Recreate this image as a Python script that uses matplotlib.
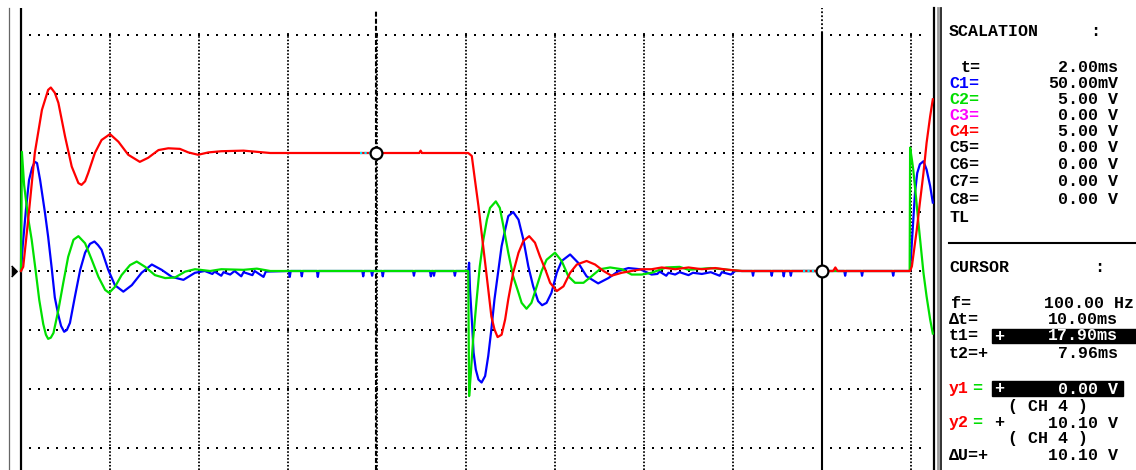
import matplotlib
matplotlib.use("Agg")
import matplotlib.pyplot as plt
from matplotlib.patches import Rectangle
from matplotlib.lines import Line2D

W, H, DPI = 1136, 470, 100

# ---------------- data: time in ms, amplitude in screen divisions ----------------
# C4 (red)
red_t = [0.00, 0.05, 0.16, 0.31, 0.47, 0.61, 0.67, 0.76, 0.84, 0.99, 1.14, 1.29, 1.36, 1.44, 1.51, 1.66, 1.81, 2.00,
         2.19, 2.41, 2.67, 2.86, 3.09, 3.31, 3.57, 3.76, 3.98, 4.21, 4.50, 5.00, 5.30, 5.60, 8.95, 8.98, 9.01, 10.05,
         10.13, 10.20, 10.28, 10.35, 10.43, 10.50, 10.57, 10.64, 10.71, 10.80, 10.88, 10.95, 11.06, 11.18, 11.29,
         11.42, 11.55, 11.66, 11.78, 11.89, 12.04, 12.19, 12.34, 12.49, 12.71, 12.90, 13.09, 13.27, 13.50, 13.72,
         13.95, 14.17, 14.40, 14.70, 15.00, 15.30, 15.60, 15.90, 16.20, 18.25, 18.30, 18.35, 19.98,
         20.02, 20.05, 20.13, 20.20, 20.28, 20.35, 20.43, 20.49]
red_v = [0.00, 0.07, 0.86, 2.00, 2.73, 3.07, 3.11, 3.02, 2.85, 2.28, 1.77, 1.49, 1.46, 1.52, 1.66, 2.00, 2.22, 2.32,
         2.19, 1.97, 1.85, 1.92, 2.05, 2.08, 2.07, 2.01, 1.97, 2.01, 2.03, 2.04, 2.02, 2.00, 2.00, 2.04, 2.00, 2.00,
         1.95, 1.55, 1.10, 0.65, 0.14, -0.31, -0.77, -0.99, -1.12, -1.08, -0.82, -0.48, -0.03, 0.31, 0.51,
         0.59, 0.48, 0.25, 0.03, -0.20, -0.34, -0.26, -0.03, 0.11, 0.17, 0.11, 0.00, -0.08, -0.03, 0.00,
         0.03, 0.03, 0.06, 0.03, 0.06, 0.03, 0.05, 0.02, 0.00, 0.00, 0.06, 0.00, 0.00,
         0.08, 0.25, 0.70, 1.16, 1.66, 2.17, 2.62, 2.91]

# C1 (blue)
blue_t = [0.00, 0.04, 0.11, 0.18, 0.25, 0.31, 0.36, 0.43, 0.54, 0.61, 0.69, 0.76, 0.84, 0.90, 0.97, 1.03, 1.10, 1.21,
          1.33, 1.44, 1.55, 1.65, 1.73, 1.81, 1.96, 2.11, 2.30, 2.49, 2.71, 2.94, 3.16, 3.39, 3.65, 3.91, 4.13,
          4.30, 4.35, 4.50, 4.55, 4.70, 4.80, 4.95, 5.00, 5.20, 5.25, 5.45, 5.50, 6.02, 6.04, 6.06, 6.29, 6.31,
          6.33, 6.65, 6.67, 6.69, 7.67, 7.69, 7.71, 7.87, 7.89, 7.91, 8.11, 8.13, 8.15, 8.81, 8.83, 8.85, 9.19,
          9.21, 9.23, 9.26, 9.28, 9.30, 9.73, 9.75, 9.77,
          10.05, 10.07, 10.09, 10.14, 10.17, 10.22, 10.28, 10.35, 10.43, 10.50, 10.57, 10.64, 10.73, 10.80,
          10.88, 10.95, 11.06, 11.18, 11.29, 11.40, 11.51, 11.62, 11.71, 11.81, 11.92, 12.04, 12.15, 12.34,
          12.52, 12.71, 12.97, 13.20, 13.43, 13.65, 13.91, 14.17,
          14.30, 14.35, 14.50, 14.55, 14.70, 14.80, 15.00, 15.10, 15.30, 15.50, 15.70, 15.75, 15.95, 16.05,
          16.43, 16.45, 16.47, 16.85, 16.87, 16.89, 17.12, 17.14, 17.16, 17.28, 17.30, 17.32, 18.50, 18.52,
          18.54, 18.88, 18.90, 18.92, 19.58, 19.60, 19.62, 19.98,
          20.02, 20.05, 20.09, 20.14, 20.20, 20.28, 20.35, 20.43, 20.49]
blue_v = [0.00, 0.44, 1.03, 1.54, 1.75, 1.85, 1.83, 1.54, 0.98, 0.58, 0.05, -0.45, -0.75, -0.93, -1.03, -1.00, -0.88, -0.44,
          0.02, 0.31, 0.46, 0.50, 0.44, 0.36, 0.02, -0.24, -0.35, -0.24, -0.03, 0.11, 0.02, -0.10, -0.15, -0.03, 0.00,
          -0.05, -0.01, -0.08, -0.02, -0.06, 0.00, -0.09, -0.02, -0.07, 0.00, -0.10, -0.01, 0.00, -0.10, 0.00, 0.00, -0.09,
          0.00, 0.00, -0.10, 0.00, 0.00, -0.09, 0.00, 0.00, -0.08, 0.00, 0.00, -0.09, 0.00, 0.00, -0.08, 0.00, 0.00,
          -0.09, 0.00, 0.00, -0.08, 0.00, 0.00, -0.08, 0.00,
          0.00, 0.14, -0.31, -0.94, -1.38, -1.67, -1.84, -1.89, -1.78, -1.44, -0.99, -0.48, 0.03, 0.42,
          0.70, 0.93, 1.00, 0.87, 0.53, 0.08, -0.26, -0.51, -0.58, -0.54, -0.37, -0.03, 0.17, 0.28,
          0.14, -0.09, -0.21, -0.12, 0.00, 0.05, 0.03, -0.06,
          -0.05, -0.01, -0.08, -0.03, -0.06, -0.02, -0.07, -0.03, -0.05, -0.02, -0.08, -0.02, -0.06, 0.00,
          0.00, -0.08, 0.00, 0.00, -0.08, 0.00, 0.00, -0.09, 0.00, 0.00, -0.08, 0.00, 0.00, -0.08,
          0.00, 0.00, -0.08, 0.00, 0.00, -0.08, 0.00, 0.00,
          0.48, 0.87, 1.33, 1.66, 1.81, 1.86, 1.72, 1.44, 1.16]

# C2 (green)
green_t = [0.00, 0.02, 0.07, 0.16, 0.24, 0.33, 0.41, 0.50, 0.56, 0.61, 0.67, 0.73, 0.84, 0.95, 1.06, 1.18, 1.29, 1.44,
           1.59, 1.74, 1.89, 1.98, 2.11, 2.26, 2.45, 2.60, 2.79, 3.01, 3.24, 3.46, 3.69, 3.91, 4.25, 4.50, 5.00, 5.30,
           5.60, 10.05,
           10.07, 10.11, 10.16, 10.24, 10.31, 10.39, 10.47, 10.54, 10.67, 10.76, 10.84, 10.95, 11.06, 11.18, 11.25,
           11.36, 11.47, 11.59, 11.70, 11.81, 12.00, 12.15, 12.30, 12.45, 12.64, 12.82, 13.01, 13.24, 13.50, 13.72,
           13.95, 14.17, 14.50, 14.80, 15.00, 15.50, 15.90, 16.20, 19.97,
           19.98, 20.02, 20.05, 20.11, 20.16, 20.22, 20.28, 20.35, 20.43, 20.49]
green_v = [0.00, 2.02, 1.46, 0.90, 0.53, 0.00, -0.49, -0.90, -1.08, -1.15, -1.13, -1.05, -0.66, -0.20, 0.24, 0.53, 0.59, 0.47,
           0.19, -0.10, -0.32, -0.37, -0.27, -0.07, 0.10, 0.16, 0.07, -0.07, -0.12, -0.11, -0.01, 0.03, 0.00, 0.03, 0.02, 0.04,
           0.00, 0.00,
           -2.12, -1.72, -1.16, -0.48, 0.08, 0.53, 0.87, 1.07, 1.18, 1.07, 0.76, 0.31, -0.09, -0.37, -0.54,
           -0.64, -0.54, -0.26, 0.00, 0.19, 0.31, 0.17, -0.09, -0.20, -0.20, -0.09, 0.03, 0.06, 0.03, -0.06,
           -0.06, -0.03, 0.06, 0.07, 0.02, 0.05, 0.02, 0.00, 0.00,
           2.09, 1.89, 1.72, 1.27, 0.87, 0.42, -0.03, -0.43, -0.82, -1.06]

grid_t = [2, 4, 6, 8, 10, 12, 14, 16, 18, 20]        # vertical graticule (2 ms/div)
grid_v = [4, 3, 2, 1, 0, -1, -2, -3]                 # horizontal graticule
cursor_t2 = 7.98      # dashed cursor
cursor_t1 = 18.00     # active cursor
cursor_y2 = 2.00      # 10.10 V on CH4
cursor_y1 = 0.00      # 0.00 V on CH4

scal_labels = ["C1=", "C2=", "C3=", "C4=", "C5=", "C6=", "C7=", "C8="]
scal_values = ["50.00mV", "5.00 V", "0.00 V", "5.00 V", "0.00 V", "0.00 V", "0.00 V", "0.00 V"]
scal_colors = ["#0000ff", "#00dd00", "#ff00ff", "#ff0000", "black", "black", "black", "black"]

RED, BLUE, GREEN = "#ff0000", "#0000ff", "#00e000"

# ---------------- figure / screen geometry ----------------
fig = plt.figure(figsize=(W / DPI, H / DPI), dpi=DPI)
fig.patch.set_facecolor("white")

X0, PX_MS = 21.0, 44.5      # screen left edge (t=0) and pixels per ms
Y0, PX_DIV = 271.0, 59.0    # zero line and pixels per division


def tx(px):
    return (px - X0) / PX_MS


def vy(py):
    return (Y0 - py) / PX_DIV


ax = fig.add_axes([0, 0, 945 / W, 1])
ax.set_xlim(tx(0), tx(945))
ax.set_ylim(vy(H), vy(0))
ax.axis("off")

ybot = vy(H)
ytop_frame = vy(8)

# horizontal dotted graticule
dots_t = [0.2 * k for k in range(1, 102)]
for v in grid_v:
    ax.plot(dots_t, [v] * len(dots_t), ls="none", marker="s", ms=1.8, mew=0,
            color="black", zorder=1)

# vertical finely dotted graticule
for t in grid_t:
    ax.plot([t, t], [ybot, vy(33)], color="black", lw=1.3, ls=(0, (0.9, 1.0)), zorder=1)

# frame lines
ax.plot([0, 0], [ybot, ytop_frame], color="black", lw=1.6, zorder=2, solid_capstyle="butt")
ax.plot([tx(9)] * 2, [ybot, ytop_frame], color="#666666", lw=0.9, zorder=2)
ax.plot([tx(934)] * 2, [ybot, ytop_frame], color="black", lw=1.6, zorder=2)
ax.plot([tx(937.5)] * 2, [ybot, ytop_frame], color="#999999", lw=2.0, zorder=2)
ax.plot([tx(941)] * 2, [ybot, ytop_frame], color="#222222", lw=1.3, zorder=2)

# zero-level marker
ax.plot([tx(14)], [0], ls="none", marker=[(-0.5, 1), (0.5, 0), (-0.5, -1)], ms=8,
        color="black", zorder=2, clip_on=False)

# cursors
ax.plot([cursor_t2] * 2, [ybot, vy(11)], color="black", lw=1.5, ls=(0, (2.4, 1.0)), zorder=2)
ax.plot([cursor_t1] * 2, [ybot, vy(33)], color="black", lw=1.5, zorder=2)
ax.plot([cursor_t1] * 2, [vy(33), ytop_frame], color="black", lw=1.3, ls=(0, (1, 1.2)), zorder=2)

# traces
ax.plot(blue_t, blue_v, color=BLUE, lw=1.6, zorder=3)
ax.plot(green_t, green_v, color=GREEN, lw=1.6, zorder=4)
ax.plot(red_t, red_v, color=RED, lw=1.6, zorder=5)

# y-cursor marks
ax.plot([cursor_t2 - 0.36, cursor_t2 - 0.1], [cursor_y2] * 2, color="#00e5ff", lw=1.6, ls=(0, (1, 1)), zorder=6)
ax.plot([cursor_t1 - 0.42, cursor_t1 - 0.12], [cursor_y1] * 2, color="#00e5ff", lw=1.6, ls=(0, (1, 1)), zorder=6)
ax.plot([cursor_t2, cursor_t1], [cursor_y2, cursor_y1], ls="none", marker="o", ms=8.5,
        mfc="white", mec="black", mew=1.6, zorder=7)

# ---------------- text panel ----------------
FONT = ["Liberation Mono", "DejaVu Sans Mono"]
FS = 12


def txt(x, yc, s, color="black", ha="left"):
    fig.text(x / W, 1 - (yc + 5.5) / H, s, color=color, ha=ha, va="baseline",
             family=FONT, fontsize=FS, fontweight="bold")


def box(x0, x1, y0, y1):
    fig.add_artist(Rectangle((x0 / W, 1 - y1 / H), (x1 - x0) / W, (y1 - y0) / H,
                             transform=fig.transFigure, color="black", zorder=1))


txt(949, 31, "SCALATION")
txt(1090, 31, ":")
txt(961, 66, "t=")
txt(1118, 66, "2.00ms", ha="right")
rows_y = [82, 98, 114, 130, 147, 164, 181, 199]
for yc, lab, val, col in zip(rows_y, scal_labels, scal_values, scal_colors):
    txt(949, yc, lab, color=col)
    txt(1118, yc, val, ha="right")
txt(949, 216, "TL")

fig.add_artist(Line2D([949 / W, 1136 / W], [1 - 243 / H] * 2, color="black", lw=1.5))

txt(949, 266, "CURSOR")
txt(1094, 266, ":")
txt(951, 302, "f=")
txt(1134, 302, "100.00 Hz", ha="right")
txt(949, 318, "Δt=")
txt(1118, 318, "10.00ms", ha="right")
txt(949, 335, "t1=")
box(992, 1136, 329, 343)
txt(994, 335, "+", color="white")
txt(1118, 335, "17.90ms", color="white", ha="right")
txt(949, 352, "t2=+")
txt(1118, 352, "7.96ms", ha="right")

txt(949, 388, "y1", color="#ff0000")
txt(972, 388, "=", color="#00dd00")
box(992, 1123, 381, 396)
txt(994, 388, "+", color="white")
txt(1118, 388, "0.00 V", color="white", ha="right")
txt(1048, 405, "( CH 4 )", ha="center")
txt(949, 422, "y2", color="#ff0000")
txt(972, 422, "=", color="#00dd00")
txt(994, 422, "+")
txt(1118, 422, "10.10 V", ha="right")
txt(1048, 438, "( CH 4 )", ha="center")
txt(949, 455, "ΔU=+")
txt(1118, 455, "10.10 V", ha="right")

fig.savefig("out.png", dpi=DPI, facecolor="white")
